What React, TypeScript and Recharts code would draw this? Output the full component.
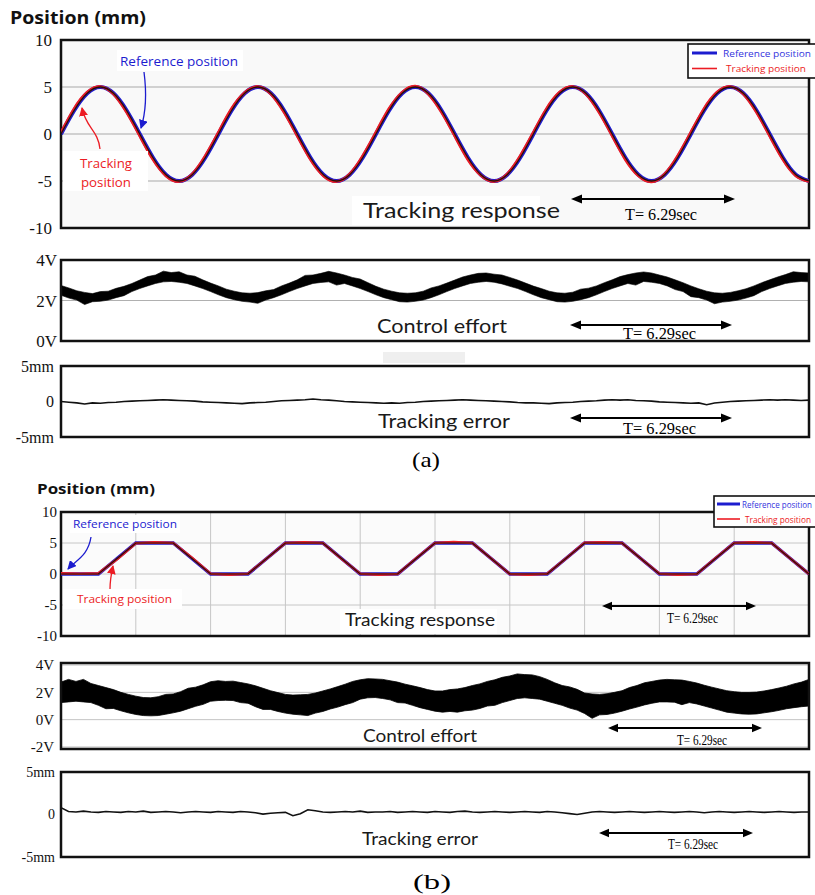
import React from 'react'
import { ComposedChart, Line, Area, XAxis, YAxis, CartesianGrid, ReferenceArea } from 'recharts'

// (a) sinusoidal reference, 12 samples per period (T = 6.29 s)
const refPosA = [
  0, 2.5, 4.33, 5, 4.33, 2.5, 0, -2.5, -4.33, -5, -4.33, -2.5,
  0, 2.5, 4.33, 5, 4.33, 2.5, 0, -2.5, -4.33, -5, -4.33, -2.5,
  0, 2.5, 4.33, 5, 4.33, 2.5, 0, -2.5, -4.33, -5, -4.33, -2.5,
  0, 2.5, 4.33, 5, 4.33, 2.5, 0, -2.5, -4.33, -5, -4.33, -2.5,
  0, 2.5, 4.33, 5, 4.33, 2.5, 0, -2.5, -4.33, -5,
]
const trkPosA = [
  0.15, 2.7, 4.45, 5.05, 4.25, 2.3, -0.2, -2.7, -4.45, -5.05, -4.25, -2.3,
  0.2, 2.7, 4.4, 5.05, 4.25, 2.3, -0.2, -2.7, -4.45, -5.05, -4.25, -2.3,
  0.2, 2.7, 4.45, 5.1, 4.25, 2.3, -0.2, -2.7, -4.4, -5.05, -4.25, -2.3,
  0.2, 2.7, 4.45, 5.05, 4.25, 2.3, -0.2, -2.7, -4.45, -5.1, -4.25, -2.3,
  0.2, 2.7, 4.45, 5.05, 4.25, 2.3, -0.2, -2.7, -4.45, -5.05,
]
// control effort (a), upper / lower edge of the noisy band, 20 samples per period
const effortHiA = [
  2.74, 2.62, 2.48, 2.40, 2.34, 2.44, 2.46, 2.60, 2.70, 2.84,
  3.01, 3.18, 3.26, 3.45, 3.38, 3.42, 3.26, 3.20, 3.02, 2.86,
  2.72, 2.56, 2.46, 2.38, 2.36, 2.39, 2.48, 2.54, 2.72, 2.86,
  3.02, 3.24, 3.26, 3.34, 3.44, 3.36, 3.26, 3.14, 3.06, 2.88,
  2.70, 2.56, 2.46, 2.38, 2.36, 2.38, 2.46, 2.62, 2.72, 2.86,
  3.01, 3.16, 3.26, 3.34, 3.36, 3.30, 3.26, 3.14, 3.01, 2.86,
  2.71, 2.59, 2.46, 2.38, 2.36, 2.41, 2.56, 2.61, 2.72, 2.88,
  3.02, 3.18, 3.28, 3.36, 3.41, 3.36, 3.26, 3.16, 3.02, 2.88,
  2.72, 2.58, 2.46, 2.38, 2.36, 2.40, 2.48, 2.58, 2.72, 2.88,
  3.02, 3.16, 3.28, 3.42, 3.38, 3.36,
]
const effortLoA = [
  2.26, 2.12, 2.02, 1.80, 1.94, 1.96, 2.02, 2.14, 2.24, 2.44,
  2.59, 2.72, 2.84, 2.92, 2.94, 2.90, 2.84, 2.72, 2.59, 2.44,
  2.28, 2.14, 2.04, 1.96, 1.92, 1.86, 2.02, 2.14, 2.28, 2.44,
  2.59, 2.72, 2.84, 2.89, 2.92, 2.76, 2.84, 2.72, 2.59, 2.44,
  2.28, 2.14, 2.04, 1.94, 1.92, 1.96, 2.02, 2.14, 2.28, 2.44,
  2.59, 2.72, 2.84, 2.90, 2.94, 2.90, 2.82, 2.70, 2.59, 2.44,
  2.28, 2.14, 2.04, 1.94, 1.92, 1.96, 2.04, 2.14, 2.28, 2.44,
  2.59, 2.72, 2.84, 2.76, 2.94, 2.90, 2.84, 2.72, 2.54, 2.44,
  2.19, 2.14, 2.02, 1.84, 1.92, 1.96, 2.02, 2.12, 2.24, 2.44,
  2.59, 2.72, 2.84, 2.90, 2.94, 2.92,
]
const errA = [
  0.0, -0.1, -0.2, -0.35, -0.2, -0.25, -0.15, -0.1, 0.0, 0.05,
  0.1, 0.15, 0.2, 0.25, 0.2, 0.15, 0.1, 0.05, -0.05, -0.1,
  -0.15, -0.2, -0.25, -0.3, -0.2, -0.15, -0.1, 0.0, 0.1, 0.15,
  0.2, 0.25, 0.35, 0.25, 0.2, 0.1, 0.0, -0.05, -0.1, -0.15,
  -0.2, -0.25, -0.2, -0.25, -0.15, -0.1, 0.0, 0.05, 0.1, 0.15,
  0.2, 0.25, 0.2, 0.15, 0.1, 0.05, 0.0, -0.05, -0.15, -0.2,
  -0.2, -0.25, -0.3, -0.2, -0.15, -0.1, 0.0, 0.05, 0.1, 0.2,
  0.25, 0.2, 0.25, 0.15, 0.1, 0.05, -0.05, -0.1, -0.15, -0.2,
  -0.25, -0.2, -0.45, -0.2, -0.1, 0.0, 0.05, 0.1, 0.15, 0.2,
  0.25, 0.2, 0.25, 0.2, 0.15, 0.2,
]

// (b) trapezoidal reference, 8 half-steps per period
const refPosB = [
  0, 0, 0, 2.5, 5, 5, 5, 2.5,
  0, 0, 0, 2.5, 5, 5, 5, 2.5,
  0, 0, 0, 2.5, 5, 5, 5, 2.5,
  0, 0, 0, 2.5, 5, 5, 5, 2.5,
  0, 0, 0, 2.5, 5, 5, 5, 2.5,
  0,
]
const trkPosB = [
  0.1, 0.05, 0.1, 2.4, 4.95, 5.1, 5.0, 2.6,
  0.05, -0.1, 0.05, 2.5, 5.0, 5.1, 5.0, 2.45,
  0.05, -0.1, 0.0, 2.55, 5.0, 5.15, 5.0, 2.5,
  0.0, -0.1, 0.05, 2.5, 5.05, 5.1, 5.0, 2.5,
  0.05, -0.1, 0.0, 2.55, 5.0, 5.1, 5.0, 2.5,
  0.0,
]
const effortHiB = [
  2.75, 2.95, 2.80, 2.95, 2.65, 2.50, 2.35, 2.20, 2.00, 1.85,
  1.72, 1.62, 1.60, 1.68, 1.85, 1.88, 2.05, 2.30, 2.38, 2.55,
  2.78, 2.85, 2.80, 2.82, 2.72, 2.62, 2.48, 2.30, 2.12, 1.98,
  1.85, 1.80, 1.82, 1.85, 1.95, 2.10, 2.25, 2.42, 2.60, 2.80,
  2.92, 3.00, 2.98, 2.95, 2.85, 2.75, 2.60, 2.48, 2.35, 2.20,
  2.10, 2.10, 2.20, 2.25, 2.35, 2.50, 2.62, 2.80, 2.92, 3.10,
  3.20, 3.35, 3.30, 3.28, 3.15, 2.95, 2.70, 2.50, 2.40, 2.22,
  1.95, 1.88, 1.85, 1.90, 2.00, 2.12, 2.35, 2.50, 2.70, 2.80,
  2.90, 2.95, 2.92, 2.90, 2.80, 2.68, 2.52, 2.38, 2.25, 2.12,
  2.05, 2.00, 2.00, 2.02, 2.10, 2.20, 2.32, 2.45, 2.62, 2.75,
  2.95,
]
const effortLoB = [
  1.25, 1.30, 1.35, 1.30, 1.25, 1.05, 0.80, 0.82, 0.65, 0.50,
  0.38, 0.30, 0.28, 0.30, 0.40, 0.50, 0.62, 0.80, 0.98, 1.12,
  1.35, 1.40, 1.42, 1.40, 1.25, 1.20, 0.95, 0.75, 0.75, 0.60,
  0.48, 0.40, 0.35, 0.30, 0.48, 0.60, 0.78, 0.92, 1.10, 1.25,
  1.50, 1.60, 1.62, 1.55, 1.45, 1.25, 1.22, 1.05, 0.88, 0.75,
  0.62, 0.55, 0.60, 0.55, 0.65, 0.70, 0.82, 1.00, 1.05, 1.25,
  1.40, 1.55, 1.60, 1.55, 1.50, 1.35, 1.20, 1.05, 0.85, 0.70,
  0.45, 0.10, 0.35, 0.38, 0.48, 0.62, 0.78, 0.92, 1.08, 1.20,
  1.30, 1.30, 1.28, 1.10, 1.25, 1.15, 1.00, 0.85, 0.70, 0.55,
  0.48, 0.42, 0.40, 0.42, 0.50, 0.58, 0.68, 0.80, 0.88, 0.95,
  1.00,
]
const errB = [
  0.8, 0.35, 0.3, 0.4, 0.3, 0.25, 0.35, 0.3, 0.25, 0.35,
  0.3, 0.4, 0.25, 0.3, 0.35, 0.3, 0.2, 0.3, 0.35, 0.3,
  0.25, 0.35, 0.3, 0.25, 0.35, 0.3, 0.2, 0.05, 0.15, 0.2,
  0.25, -0.15, 0.1, 0.55, 0.45, 0.3, 0.25, 0.3, 0.35, 0.3,
  0.4, 0.25, 0.3, 0.3, 0.35, 0.25, 0.3, 0.35, 0.3, 0.25,
  0.35, 0.3, 0.25, 0.35, 0.4, 0.3, 0.25, 0.3, 0.35, 0.3,
  0.25, 0.3, 0.35, 0.3, 0.25, 0.35, 0.3, 0.2, 0.1, 0.0,
  0.15, 0.3, 0.35, 0.3, 0.25, 0.3, 0.35, 0.3, 0.25, 0.3,
  0.35, 0.3, 0.25, 0.3, 0.35, 0.3, 0.2, 0.3, 0.35, 0.3,
  0.25, 0.3, 0.35, 0.3, 0.25, 0.3, 0.35, 0.3, 0.25, 0.3,
  0.3,
]

const posTicks = [-10, -5, 0, 5, 10]
const voltTicksA = [0, 2, 4]
const voltTicksB = [-2, 0, 2, 4]
const errTicks = [-5, 0, 5]
const gridTicksB = [0, 4, 8, 12, 16, 20, 24, 28, 32, 36, 40]

const voltLabel = (v: number) => `${v}V`
const errLabel = (v: number) => (v === 0 ? '0' : `${v}mm`)

const posDataA = refPosA.map((v, i) => ({ i, ref: v, trk: trkPosA[i] }))
const effortDataA = effortHiA.map((h, i) => ({ i, band: [effortLoA[i], h] }))
const errDataA = errA.map((v, i) => ({ i, err: v }))
const posDataB = refPosB.map((v, i) => ({ i, ref: v, trk: trkPosB[i] }))
const effortDataB = effortHiB.map((h, i) => ({ i, band: [effortLoB[i], h] }))
const errDataB = errB.map((v, i) => ({ i, err: v }))

const SANS = "Lato, 'Open Sans', sans-serif"
const BOLD = "'Open Sans', Lato, sans-serif"
const SERIF = "'Liberation Serif', 'Times New Roman', serif"
const BLUE = '#1c1ccf'
const RED = '#ec1c24'
const PAD = 14

type PanelProps = {
  top: number
  plotH: number
  n: number
  domain: [number, number]
  ticks: number[]
  fmt?: (v: number) => string
  fontSize: number
  tickMargin: number
  bg?: string
  gridColor?: string
  hLines?: boolean
  vTicks?: number[]
  data: any[]
  children: React.ReactNode
}

function Panel(p: PanelProps) {
  const h = p.plotH + PAD * 2
  return (
    <div style={{ position: 'absolute', left: 0, top: p.top - PAD, width: 815, height: h }}>
      <ComposedChart width={815} height={h} data={p.data} margin={{ top: PAD, right: 6, bottom: PAD, left: 0 }}>
        <CartesianGrid
          fill={p.bg ?? '#fff'}
          fillOpacity={1}
          stroke={p.gridColor ?? '#b4b4b4'}
          horizontal={!!p.hLines}
          vertical={!!p.vTicks}
        />
        <XAxis dataKey="i" type="number" domain={[0, p.n - 1]} ticks={p.vTicks} interval={0} hide allowDataOverflow />
        <YAxis
          type="number"
          domain={p.domain}
          ticks={p.ticks}
          interval={0}
          allowDataOverflow
          width={61}
          tickLine={false}
          axisLine={false}
          tickSize={0}
          tickMargin={p.tickMargin}
          tickFormatter={p.fmt}
          tick={{ fontSize: p.fontSize, fontFamily: SERIF, fill: '#111' }}
        />
        {p.children}
        <ReferenceArea
          x1={0}
          x2={p.n - 1}
          y1={p.domain[0]}
          y2={p.domain[1]}
          fill="none"
          stroke="#111"
          strokeWidth={2.5}
          ifOverflow="visible"
        />
      </ComposedChart>
    </div>
  )
}

function DArrow({ x1, x2, y, s }: { x1: number; x2: number; y: number; s: number }) {
  const w = s * 0.42
  return (
    <g>
      <line x1={x1 + s / 2} x2={x2 - s / 2} y1={y} y2={y} stroke="#000" strokeWidth={2} />
      <polygon points={`${x1},${y} ${x1 + s},${y - w} ${x1 + s},${y + w}`} fill="#000" />
      <polygon points={`${x2},${y} ${x2 - s},${y - w} ${x2 - s},${y + w}`} fill="#000" />
    </g>
  )
}

function Txt(props: { x: number; y: number; w: number; size: number; font: string; fill?: string; weight?: number; children: string }) {
  return (
    <text
      x={props.x}
      y={props.y}
      fontSize={props.size}
      fontFamily={props.font}
      fontWeight={props.weight ?? 400}
      fill={props.fill ?? '#1a1a1a'}
      textLength={props.w}
      lengthAdjust="spacingAndGlyphs"
    >
      {props.children}
    </text>
  )
}

function Overlay() {
  return (
    <svg width={815} height={895} style={{ position: 'absolute', left: 0, top: 0, pointerEvents: 'none' }}>
      <defs>
        <marker id="hb" markerUnits="userSpaceOnUse" markerWidth={9} markerHeight={9} refX={8} refY={4.5} orient="auto">
          <path d="M0,0 L9,4.5 L0,9 z" fill={BLUE} />
        </marker>
        <marker id="hr" markerUnits="userSpaceOnUse" markerWidth={9} markerHeight={9} refX={8} refY={4.5} orient="auto">
          <path d="M0,0 L9,4.5 L0,9 z" fill={RED} />
        </marker>
      </defs>

      {/* (a) */}
      <Txt x={10} y={24} w={136} size={17} font={BOLD} weight={700} fill="#111">Position (mm)</Txt>
      <rect x={117} y={50} width={126} height={21} fill="#fff" />
      <Txt x={120} y={66} w={118} size={13} font={BOLD} fill={BLUE}>Reference position</Txt>
      <path d="M144,72 C147,95 146,112 141,128" fill="none" stroke={BLUE} strokeWidth={1.3} markerEnd="url(#hb)" />
      <rect x={63} y={151} width={85} height={40} fill="#fff" />
      <Txt x={80} y={168} w={52} size={13} font={BOLD} fill={RED}>Tracking</Txt>
      <Txt x={81} y={187} w={50} size={13} font={BOLD} fill={RED}>position</Txt>
      <path d="M100,149 C98,130 86,128 82,108" fill="none" stroke={RED} strokeWidth={1.3} markerEnd="url(#hr)" />
      <rect x={688} y={44} width={140} height={34} fill="#fff" stroke="#111" strokeWidth={1.6} />
      <line x1={692} x2={717} y1={53} y2={53} stroke={BLUE} strokeWidth={3} />
      <Txt x={723} y={56.5} w={88} size={9.5} font={BOLD} fill="#3434dd">Reference position</Txt>
      <line x1={692} x2={717} y1={68.5} y2={68.5} stroke={RED} strokeWidth={1.6} />
      <Txt x={726} y={72} w={80} size={9.5} font={BOLD} fill={RED}>Tracking position</Txt>
      <rect x={352} y={196} width={188} height={29} fill="#fff" />
      <Txt x={363} y={218} w={197} size={21} font={SANS}>Tracking response</Txt>
      <DArrow x1={571} x2={735} y={199} s={11} />
      <Txt x={625} y={220} w={72} size={16} font={SERIF} fill="#000">T= 6.29sec</Txt>

      <Txt x={377} y={333} w={130} size={19} font={SANS}>Control effort</Txt>
      <DArrow x1={570} x2={732} y={325} s={11} />
      <Txt x={623} y={339} w={73} size={16} font={SERIF} fill="#000">T= 6.29sec</Txt>

      <rect x={383} y={352} width={82} height={11} fill="#efefef" />

      <Txt x={378} y={428} w={132} size={19} font={SANS}>Tracking error</Txt>
      <DArrow x1={570} x2={732} y={418} s={11} />
      <Txt x={623} y={434} w={73} size={16} font={SERIF} fill="#000">T= 6.29sec</Txt>

      <Txt x={412} y={467} w={28} size={21} font={SERIF} fill="#000">(a)</Txt>

      {/* (b) */}
      <Txt x={37} y={494} w={118} size={15} font={BOLD} weight={700} fill="#111">Position (mm)</Txt>
      <rect x={70} y={515} width={110} height={18} fill="#fff" />
      <Txt x={73} y={528} w={104} size={11.5} font={BOLD} fill={BLUE}>Reference position</Txt>
      <path d="M91,537 C88,556 76,560 68,569" fill="none" stroke={BLUE} strokeWidth={1.3} markerEnd="url(#hb)" />
      <rect x={63} y={589} width={119} height={20} fill="#fff" />
      <Txt x={77} y={603} w={95} size={11.5} font={BOLD} fill={RED}>Tracking position</Txt>
      <path d="M110,589 C110,581 111,575 113,566" fill="none" stroke={RED} strokeWidth={1.3} markerEnd="url(#hr)" />
      <rect x={714} y={496} width={110} height={31} fill="#fff" stroke="#111" strokeWidth={1.6} />
      <line x1={717} x2={740} y1={504} y2={504} stroke={BLUE} strokeWidth={3} />
      <Txt x={742} y={507.5} w={70} size={8.5} font={BOLD} fill="#3434dd">Reference position</Txt>
      <line x1={717} x2={740} y1={519} y2={519} stroke={RED} strokeWidth={1.6} />
      <Txt x={745} y={522.5} w={66} size={8.5} font={BOLD} fill={RED}>Tracking position</Txt>
      <rect x={340} y={609} width={157} height={25} fill="#fff" />
      <Txt x={345} y={626} w={150} size={18} font={SANS}>Tracking response</Txt>
      <DArrow x1={602} x2={756} y={606} s={10} />
      <Txt x={667} y={623} w={51} size={14} font={SERIF} fill="#000">T= 6.29sec</Txt>

      <Txt x={363} y={742} w={114} size={17} font={SANS}>Control effort</Txt>
      <DArrow x1={608} x2={762} y={728} s={10} />
      <Txt x={677} y={745} w={50} size={14} font={SERIF} fill="#000">T= 6.29sec</Txt>

      <Txt x={362} y={845} w={116} size={17} font={SANS}>Tracking error</Txt>
      <DArrow x1={599} x2={753} y={833} s={10} />
      <Txt x={668} y={849} w={50} size={14} font={SERIF} fill="#000">T= 6.29sec</Txt>

      <Txt x={413} y={889} w={38} size={22} font={SERIF} fill="#000">(b)</Txt>
    </svg>
  )
}

export default function App() {
  return (
    <div style={{ position: 'absolute', left: 0, top: 0, width: 815, height: 895, background: '#fff', overflow: 'hidden' }}>
      {/* (a) tracking response */}
      <Panel top={40} plotH={188} n={refPosA.length} domain={[-10, 10]} ticks={posTicks} fontSize={17} tickMargin={9}
        bg="#f9f9f9" gridColor="#a9a9a9" hLines data={posDataA}>
        <Line dataKey="ref" type="natural" stroke={BLUE} strokeWidth={4} dot={false} isAnimationActive={false} />
        <Line dataKey="trk" type="natural" stroke={RED} strokeWidth={2.8} dot={false} isAnimationActive={false} />
        <Line dataKey="ref" type="natural" stroke="#1e1010" strokeWidth={1.3} dot={false} isAnimationActive={false} />
      </Panel>
      {/* (a) control effort */}
      <Panel top={260} plotH={81} n={effortHiA.length} domain={[0, 4]} ticks={voltTicksA} fmt={voltLabel} fontSize={17} tickMargin={4}
        gridColor="#b0b0b0" hLines data={effortDataA}>
        <Area dataKey="band" type="linear" stroke="#000" strokeWidth={0.6} fill="#000" fillOpacity={1} dot={false} activeDot={false} isAnimationActive={false} />
      </Panel>
      {/* (a) tracking error */}
      <Panel top={366} plotH={71} n={errA.length} domain={[-5, 5]} ticks={errTicks} fmt={errLabel} fontSize={16} tickMargin={7}
        data={errDataA}>
        <Line dataKey="err" type="linear" stroke="#111" strokeWidth={1.6} dot={false} isAnimationActive={false} />
      </Panel>

      {/* (b) tracking response */}
      <Panel top={512} plotH={124} n={refPosB.length} domain={[-10, 10]} ticks={posTicks} fontSize={15} tickMargin={4}
        bg="#fbfbfb" gridColor="#c6c6c6" hLines vTicks={gridTicksB} data={posDataB}>
        <Line dataKey="ref" type="linear" stroke={BLUE} strokeWidth={3.5} dot={false} isAnimationActive={false} />
        <Line dataKey="trk" type="linear" stroke={RED} strokeWidth={2.6} dot={false} isAnimationActive={false} />
        <Line dataKey="ref" type="linear" stroke="#1e1010" strokeWidth={1.2} dot={false} isAnimationActive={false} />
      </Panel>
      {/* (b) control effort */}
      <Panel top={663} plotH={86} n={effortHiB.length} domain={[-2.15, 4.15]} ticks={voltTicksB} fmt={voltLabel} fontSize={15} tickMargin={7}
        gridColor="#c4c4c4" hLines data={effortDataB}>
        <Area dataKey="band" type="linear" stroke="#000" strokeWidth={0.8} fill="#000" fillOpacity={1} dot={false} activeDot={false} isAnimationActive={false} />
      </Panel>
      {/* (b) tracking error */}
      <Panel top={772} plotH={85} n={errB.length} domain={[-5, 5]} ticks={errTicks} fmt={errLabel} fontSize={14} tickMargin={6}
        data={errDataB}>
        <Line dataKey="err" type="linear" stroke="#111" strokeWidth={1.6} dot={false} isAnimationActive={false} />
      </Panel>

      <Overlay />
    </div>
  )
}
